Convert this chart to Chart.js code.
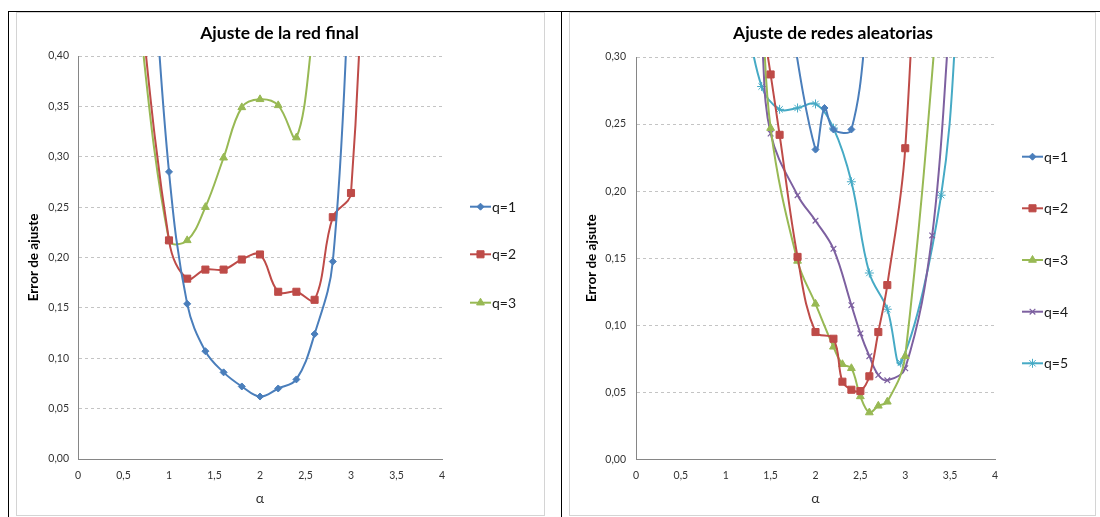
<!DOCTYPE html>
<html><head><meta charset="utf-8">
<script src="https://cdn.jsdelivr.net/npm/chart.js@4/dist/chart.umd.min.js"></script>
<style>
html,body{margin:0;padding:0;background:#fff;}
body{width:1100px;height:517px;position:relative;overflow:hidden;font-family:Lato,sans-serif;}
.rule{position:absolute;background:#000;}
.frame{position:absolute;border:1px solid #d4d4d4;box-sizing:border-box;}
canvas{position:absolute;}
</style></head><body>
<div class="rule" style="left:8px;top:11px;width:1092px;height:1px"></div>
<div class="rule" style="left:8px;top:11px;width:1px;height:506px"></div>
<div class="rule" style="left:561px;top:11px;width:1px;height:506px"></div>
<div class="frame" style="left:16px;top:12px;width:529px;height:504px"></div>
<canvas id="c1" width="527" height="502" style="left:17px;top:13px"></canvas>
<div class="frame" style="left:569px;top:12px;width:527px;height:504px"></div>
<canvas id="c2" width="526" height="502" style="left:570px;top:13px"></canvas>
<script>
// ---------- data ----------
const xTickLabels = ['0','0,5','1','1,5','2','2,5','3','3,5','4'];
const yTickLabelsLeft = ['0,00','0,05','0,10','0,15','0,20','0,25','0,30','0,35','0,40'];
const yTickLabelsRight = ['0,00','0,05','0,10','0,15','0,20','0,25','0,30'];

const seriesNamesLeft = ['q=1','q=2','q=3'];
const seriesNamesRight = ['q=1','q=2','q=3','q=4','q=5'];

// Left chart: "Ajuste de la red final"
const alphaL1 = [0.8, 1.0, 1.2, 1.4, 1.6, 1.8, 2.0, 2.2, 2.4, 2.6, 2.8, 3.0];
const errL1   = [0.527, 0.285, 0.154, 0.107, 0.086, 0.072, 0.062, 0.070, 0.079, 0.124, 0.196, 0.503];
const alphaL2 = [0.6, 1.0, 1.2, 1.4, 1.6, 1.8, 2.0, 2.2, 2.4, 2.6, 2.8, 3.0, 3.2];
const errL2   = [0.525, 0.217, 0.179, 0.188, 0.188, 0.198, 0.203, 0.166, 0.166, 0.158, 0.240, 0.264, 0.733];
const alphaL3 = [0.6, 1.0, 1.2, 1.4, 1.6, 1.8, 2.0, 2.2, 2.4, 2.6];
const errL3   = [0.495, 0.217, 0.217, 0.250, 0.299, 0.349, 0.357, 0.351, 0.319, 0.435];

// Right chart: "Ajuste de redes aleatorias"
const alphaR1 = [1.6, 2.0, 2.1, 2.2, 2.4, 2.6];
const errR1   = [0.38, 0.231, 0.262, 0.246, 0.246, 0.344];
const alphaR2 = [1.4, 1.5, 1.6, 1.8, 2.0, 2.2, 2.3, 2.4, 2.5, 2.6, 2.7, 2.8, 3.0, 3.2];
const errR2   = [0.330, 0.287, 0.242, 0.151, 0.095, 0.090, 0.058, 0.052, 0.051, 0.062, 0.095, 0.130, 0.232, 0.534];
const alphaR3 = [1.4, 1.5, 1.8, 2.0, 2.2, 2.3, 2.4, 2.5, 2.6, 2.7, 2.8, 3.0, 3.5];
const errR3   = [0.353, 0.247, 0.148, 0.116, 0.084, 0.071, 0.068, 0.047, 0.035, 0.040, 0.043, 0.077, 0.449];
const alphaR4 = [1.4, 1.5, 1.8, 2.0, 2.2, 2.4, 2.5, 2.6, 2.7, 2.8, 3.0, 3.3, 3.5];
const errR4   = [0.314, 0.243, 0.197, 0.178, 0.157, 0.115, 0.094, 0.077, 0.063, 0.059, 0.068, 0.167, 0.333];
const alphaR5 = [1.2, 1.4, 1.6, 1.8, 2.0, 2.2, 2.4, 2.6, 2.8, 2.95, 3.4, 3.6];
const errR5   = [0.341, 0.278, 0.261, 0.262, 0.265, 0.247, 0.207, 0.139, 0.112, 0.072, 0.197, 0.355];

// ---------- styling ----------
const COLORS = ['#4a7ebb','#be4b48','#98b954','#7d60a0','#46aac5'];
const STYLES = [
  {pointStyle:'rectRot', pointRadius:3.5, pointBorderWidth:1},
  {pointStyle:'rect', pointRadius:5, pointBorderWidth:1},
  {pointStyle:'triangle', pointRadius:4.5, pointBorderWidth:1},
  {pointStyle:'crossRot', pointRadius:4, pointBorderWidth:1.2},
  {pointStyle:'star', pointRadius:4.5, pointBorderWidth:1}
];
const toNum = s => parseFloat(s.replace(',', '.'));
const xTickVals = xTickLabels.map(toNum);

function makeDataset(label, xs, ys, i) {
  return Object.assign({
    label: label,
    data: xs.map((x, k) => ({x: x, y: ys[k]})),
    showLine: true,
    borderColor: COLORS[i],
    backgroundColor: COLORS[i],
    pointBackgroundColor: COLORS[i],
    pointBorderColor: COLORS[i],
    borderWidth: 2,
    tension: 0.38,
    capBezierPoints: false,
    fill: false
  }, STYLES[i]);
}

const overlay = {
  id: 'overlay',
  afterDraw(chart, args, o) {
    const ctx = chart.ctx;
    ctx.save();
    ctx.fillStyle = '#000';
    ctx.font = 'bold 17.5px Lato';
    ctx.textAlign = 'center';
    ctx.textBaseline = 'middle';
    ctx.fillText(o.title, o.titleX, o.titleY);
    chart.data.datasets.forEach((ds, i) => {
      const y = o.legendY[i], x = o.legendX;
      ctx.strokeStyle = ds.borderColor;
      ctx.lineWidth = 2;
      ctx.setLineDash([]);
      ctx.beginPath(); ctx.moveTo(x, y); ctx.lineTo(x + 21, y); ctx.stroke();
      ctx.fillStyle = ds.borderColor;
      ctx.lineWidth = ds.pointBorderWidth;
      Chart.helpers.drawPoint(ctx, {pointStyle: ds.pointStyle, radius: ds.pointRadius, rotation: 0, borderWidth: ds.pointBorderWidth}, x + 10.5, y);
      ctx.fillStyle = '#1a1a1a';
      ctx.font = '14px Lato';
      ctx.textAlign = 'left';
      ctx.fillText(ds.label, x + 22, y + 0.5);
    });
    ctx.restore();
  }
};

function makeChart(id, p) {
  const yVals = p.yLabels.map(toNum);
  return new Chart(document.getElementById(id), {
    type: 'scatter',
    data: {datasets: p.datasets},
    plugins: [overlay],
    options: {
      responsive: false, animation: false, devicePixelRatio: 1,
      layout: {padding: p.padding},
      plugins: {
        legend: {display: false}, tooltip: {enabled: false}, title: {display: false},
        overlay: {title: p.title, titleX: p.titleX, titleY: p.titleY, legendX: p.legendX, legendY: p.legendY}
      },
      scales: {
        x: {
          type: 'linear', min: 0, max: 4,
          afterBuildTicks: s => { s.ticks = xTickVals.map(v => ({value: v})); },
          afterFit: s => { s.height = p.xAxisH; },
          grid: {display: false, drawTicks: false},
          border: {display: true, color: '#868686', width: 1},
          ticks: {padding: 10, color: '#333', maxRotation: 0, autoSkip: false,
                  font: {family: 'Lato', size: 10.5}, callback: (v, i) => xTickLabels[i]},
          title: {display: true, text: 'α', color: '#333', font: {family: 'Lato', size: 14}, padding: {top: 0, bottom: 8}}
        },
        y: {
          type: 'linear', min: 0, max: yVals[yVals.length - 1],
          afterBuildTicks: s => { s.ticks = yVals.map(v => ({value: v})); },
          afterFit: s => { s.width = p.yAxisW; },
          grid: {drawTicks: false, lineWidth: 1, color: c => (c.tick && c.tick.value === 0) ? 'rgba(0,0,0,0)' : '#c4c4c4'},
          border: {display: true, color: '#868686', width: 1, dash: [3, 3]},
          ticks: {padding: p.yTickPad, color: '#333', font: {family: 'Lato', size: 10.5},
                  callback: (v, i) => p.yLabels[i]},
          title: {display: true, text: p.yTitle, color: '#000', font: {family: 'Lato', size: 13.5, weight: 'bold'}, padding: {top: 1, bottom: 0}}
        }
      }
    }
  });
}

makeChart('c1', {
  datasets: [
    makeDataset(seriesNamesLeft[0], alphaL1, errL1, 0),
    makeDataset(seriesNamesLeft[1], alphaL2, errL2, 1),
    makeDataset(seriesNamesLeft[2], alphaL3, errL3, 2)
  ],
  yLabels: yTickLabelsLeft,
  yTitle: 'Error de ajuste',
  title: 'Ajuste de la red final', titleX: 262.5, titleY: 20,
  legendX: 453, legendY: [193.7, 241.3, 289.7],
  padding: {left: 8, top: 43, right: 102, bottom: 0},
  yAxisW: 53, xAxisH: 56, yTickPad: 9
});

makeChart('c2', {
  datasets: [
    makeDataset(seriesNamesRight[0], alphaR1, errR1, 0),
    makeDataset(seriesNamesRight[1], alphaR2, errR2, 1),
    makeDataset(seriesNamesRight[2], alphaR3, errR3, 2),
    makeDataset(seriesNamesRight[3], alphaR4, errR4, 3),
    makeDataset(seriesNamesRight[4], alphaR5, errR5, 4)
  ],
  yLabels: yTickLabelsRight,
  yTitle: 'Error de ajsute',
  title: 'Ajuste de redes aleatorias', titleX: 263, titleY: 20,
  legendX: 452, legendY: [143.7, 195.3, 247, 298.7, 350.3],
  padding: {left: 13, top: 44, right: 101, bottom: 0},
  yAxisW: 53, xAxisH: 55.5, yTickPad: 10
});
</script>
</body></html>
